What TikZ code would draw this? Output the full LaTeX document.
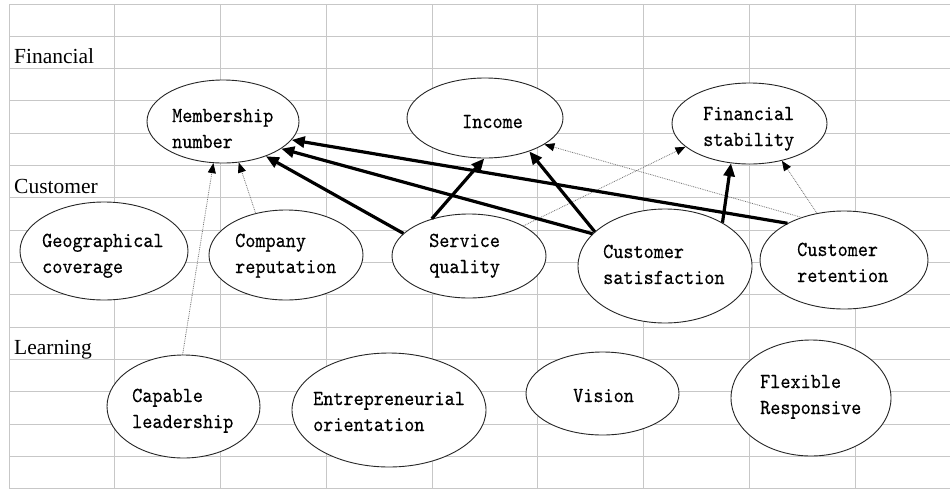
\documentclass[tikz,border=0pt]{standalone}
\usepackage{fontspec}
\setmainfont{Liberation Serif}
\newfontfamily\cellfont[FakeStretch=0.9,FakeBold=0.3]{lmmono10-regular.otf}
\usetikzlibrary{arrows.meta,shapes.geometric}
\begin{document}
\begin{tikzpicture}[x=1pt,y=-1pt,
  gridline/.style={black!22, line width=1pt},
  ell/.style={ellipse, draw=black!85, line width=0.9pt, fill=white, inner sep=0pt},
  lbl/.style={anchor=base west, inner sep=0pt, font=\cellfont\fontsize{21.4}{26}\selectfont},
  sect/.style={anchor=base west, inner sep=0pt, font=\fontsize{21.5}{26}\selectfont},
  strong/.style={line width=3.2pt, black, -{Triangle[length=13pt,width=11pt]}},
  weak/.style={line width=0.8pt, black!55, densely dotted, -{Triangle[length=10pt,width=8pt,color=black]}}]
\useasboundingbox (0,0) rectangle (950,490);
\fill[white] (0,0) rectangle (950,490);
% grid
\foreach \i in {0,...,15} \draw[gridline] (9,{4+\i*32.33}) -- (950,{4+\i*32.33});
\foreach \j in {0,...,8} \draw[gridline] ({9+\j*105.75},4) -- ({9+\j*105.75},489);
% section labels
\node[sect] (finlabel) at (14,63) {Financial};
\node[sect] (cuslabel) at (14,193) {Customer};
\node[sect] (learnlabel) at (14,354) {Learning};
% ellipses
\node[ell, minimum width=152pt, minimum height=83pt] (mem) at (223,121.5) {};
\node[ell, minimum width=156pt, minimum height=80pt] (inc) at (485,118) {};
\node[ell, minimum width=155pt, minimum height=81pt] (fin) at (749.5,123.5) {};
\node[ell, minimum width=168pt, minimum height=98pt] (geo) at (104,251) {};
\node[ell, minimum width=154pt, minimum height=90pt] (com) at (286,255) {};
\node[ell, minimum width=154pt, minimum height=84pt] (sq) at (469,256) {};
\node[ell, minimum width=174pt, minimum height=114pt] (sat) at (665,266) {};
\node[ell, minimum width=168pt, minimum height=98pt] (ret) at (844,260) {};
\node[ell, minimum width=153pt, minimum height=103pt] (cap) at (183.5,406.5) {};
\node[ell, minimum width=194pt, minimum height=114pt] (ent) at (389,410) {};
\node[ell, minimum width=153pt, minimum height=83pt] (vis) at (602.5,393.5) {};
\node[ell, minimum width=160pt, minimum height=116pt] (flex) at (811,398) {};
% texts
\node[lbl] (memt) at (172,122) {\begin{tabular}[t]{@{}l@{}}Membership\\number\end{tabular}};
\node[lbl] (inct) at (462,128) {Income};
\node[lbl] (fint) at (703,120) {\begin{tabular}[t]{@{}l@{}}Financial\\stability\end{tabular}};
\node[lbl] (geot) at (42,247) {\begin{tabular}[t]{@{}l@{}}Geographical\\coverage\end{tabular}};
\node[lbl] (comt) at (235,247) {\begin{tabular}[t]{@{}l@{}}Company\\reputation\end{tabular}};
\node[lbl] (sqt) at (429,247) {\begin{tabular}[t]{@{}l@{}}Service\\quality\end{tabular}};
\node[lbl] (satt) at (603,258) {\begin{tabular}[t]{@{}l@{}}Customer\\satisfaction\end{tabular}};
\node[lbl] (rett) at (797,256) {\begin{tabular}[t]{@{}l@{}}Customer\\retention\end{tabular}};
\node[lbl] (capt) at (132,402) {\begin{tabular}[t]{@{}l@{}}Capable\\leadership\end{tabular}};
\node[lbl] (entt) at (313,405) {\begin{tabular}[t]{@{}l@{}}Entrepreneurial\\orientation\end{tabular}};
\node[lbl] (vist) at (573,402) {Vision};
\node[lbl] (flext) at (760,388) {\begin{tabular}[t]{@{}l@{}}Flexible\\Responsive\end{tabular}};
% weak (dotted) arrows
\draw[weak] (cap.91.7) -- (mem.-103.9);
\draw[weak] (com.126.6) -- (mem.-69.5);
\draw[weak] (sq.29.2) -- (fin.-160);
\draw[weak] (ret.135.6) -- (inc.-24.7);
\draw[weak] (ret.120.6) -- (fin.-49.6);
% strong arrows
\draw[strong] (sq.161.3) -- (mem.-39.6);
\draw[strong] (sat.156.8) -- (mem.-25.5);
\draw[strong] (ret.147.8) -- (mem.-15.9);
\draw[strong] (sq.135.7) -- (inc.-91);
\draw[strong] (sat.154.4) -- (inc.-37.1);
\draw[strong] (sat.37.2) -- (fin.-115.7);
\end{tikzpicture}
\end{document}
